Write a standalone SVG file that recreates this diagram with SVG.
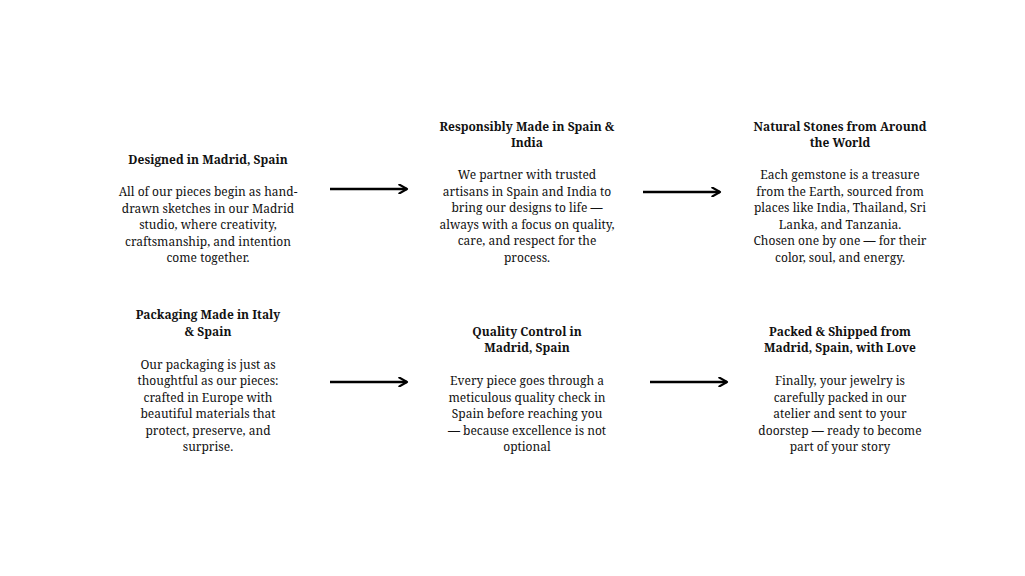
<svg xmlns="http://www.w3.org/2000/svg" width="1025" height="576" viewBox="0 0 1025 576">
<defs>
<marker id="ah" viewBox="0 0 10 10" refX="8" refY="5" markerWidth="4.2" markerHeight="4.2" markerUnits="strokeWidth" orient="auto">
<path d="M1,1 L8,5 L1,9" fill="none" stroke="#000" stroke-width="2" stroke-linecap="round" stroke-linejoin="round"/>
</marker>
<style>
text{font-family:"Noto Serif","Droid Serif","DejaVu Serif",serif;font-size:12px;fill:#111;text-anchor:middle}
.t{font-weight:bold}
.c{stroke:#000;stroke-width:2.6;fill:none;marker-end:url(#ah)}
</style>
</defs>
<rect width="1025" height="576" fill="#fff"/>
<g id="connectors">
<line class="c" x1="330" y1="189" x2="407" y2="189"/>
<line class="c" x1="643" y1="192" x2="720" y2="192"/>
<line class="c" x1="330" y1="382" x2="407" y2="382"/>
<line class="c" x1="650" y1="382" x2="727" y2="382"/>
</g>
<g id="n1">
<text class="t" x="208" y="164">Designed in Madrid, Spain</text>
<text x="208" y="196">All of our pieces begin as hand-</text>
<text x="208" y="213">drawn sketches in our Madrid</text>
<text x="208" y="229">studio, where creativity,</text>
<text x="208" y="246">craftsmanship, and intention</text>
<text x="208" y="262">come together.</text>
</g>
<g id="n2">
<text class="t" x="527" y="131">Responsibly Made in Spain &amp;</text>
<text class="t" x="527" y="147">India</text>
<text x="527" y="179">We partner with trusted</text>
<text x="527" y="196">artisans in Spain and India to</text>
<text x="527" y="212">bring our designs to life —</text>
<text x="527" y="229">always with a focus on quality,</text>
<text x="527" y="245">care, and respect for the</text>
<text x="527" y="262">process.</text>
</g>
<g id="n3">
<text class="t" x="840" y="131">Natural Stones from Around</text>
<text class="t" x="840" y="147">the World</text>
<text x="840" y="179">Each gemstone is a treasure</text>
<text x="840" y="196">from the Earth, sourced from</text>
<text x="840" y="212">places like India, Thailand, Sri</text>
<text x="840" y="229">Lanka, and Tanzania.</text>
<text x="840" y="245">Chosen one by one — for their</text>
<text x="840" y="262">color, soul, and energy.</text>
</g>
<g id="n4">
<text class="t" x="208" y="319">Packaging Made in Italy</text>
<text class="t" x="208" y="336">&amp; Spain</text>
<text x="208" y="369">Our packaging is just as</text>
<text x="208" y="385">thoughtful as our pieces:</text>
<text x="208" y="402">crafted in Europe with</text>
<text x="208" y="418">beautiful materials that</text>
<text x="208" y="435">protect, preserve, and</text>
<text x="208" y="451">surprise.</text>
</g>
<g id="n5">
<text class="t" x="527" y="336">Quality Control in</text>
<text class="t" x="527" y="352">Madrid, Spain</text>
<text x="527" y="385">Every piece goes through a</text>
<text x="527" y="402">meticulous quality check in</text>
<text x="527" y="418">Spain before reaching you</text>
<text x="527" y="435">— because excellence is not</text>
<text x="527" y="451">optional</text>
</g>
<g id="n6">
<text class="t" x="840" y="336">Packed &amp; Shipped from</text>
<text class="t" x="840" y="352">Madrid, Spain, with Love</text>
<text x="840" y="385">Finally, your jewelry is</text>
<text x="840" y="402">carefully packed in our</text>
<text x="840" y="418">atelier and sent to your</text>
<text x="840" y="435">doorstep — ready to become</text>
<text x="840" y="451">part of your story</text>
</g>
</svg>
